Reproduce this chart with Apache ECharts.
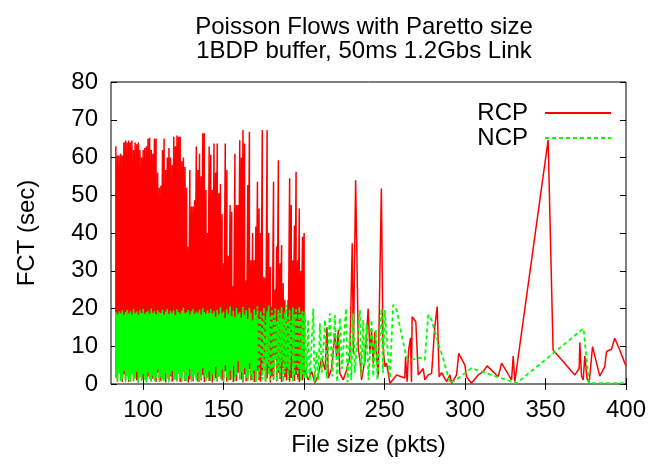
<!DOCTYPE html>
<html>
<head>
<meta charset="utf-8">
<script src="https://cdn.jsdelivr.net/npm/echarts@6/dist/echarts.min.js"></script>
<style>html,body{margin:0;padding:0;background:#fff}#c{width:652px;height:465px}</style>
</head>
<body>
<div id="c"></div>
<script>
// ---- data ----
var titleLines = ['Poisson Flows with Paretto size', '1BDP buffer, 50ms 1.2Gbs Link'];
var xTicks = [100, 150, 200, 250, 300, 350, 400];
var seriesNames = ['RCP', 'NCP'];

// dense region: file sizes with many flows (one high and one low FCT per size)
var denseX = [83,84,85,86,87,88,89,90,91,92,93,94,95,96,97,98,99,100,101,102,
  103,104,105,106,107,108,109,110,111,112,113,114,115,116,117,118,119,120,121,122,
  123,124,125,126,127,128,129,130,131,132,133,134,135,136,137,138,139,140,141,142,
  143,144,145,146,147,148,149,150,151,152,153,154,155,156,157,158,159,160,161,162,
  163,164,165,166,167,168,169,170,171,172,173,174,175,176,177,178,179,180,181,182,
  183,184,185,186,187,188,189,190,191,192,193,194,195,196,197,198,199,200];
var rcpHi = [63,60.5,60.5,61,60.5,64,64.5,64,64.5,64, 64.5,62,64,63.5,64,62,60,62,62.5,63,
  65,65.2,62,61,65,65,56,52,52.5,62, 65,56.7,60,62.5,60,58,65.5,63,65.8,65.5,
  65.5,59,60,57.5,52,36.4,56.7,47,47,48.7, 62.9,56.7,61,55,66.4,66.4,51.4,40,62.9,60.7,
  51.4,63.7,56,63.7,50.5,53,45,32,63.7,56.7, 34,47.4,45.6,26,61,47.4,47.4,64.6,60,67.3,
  63.7,27.5,52.7,66.8,32.8,40,32.8,41.7,53.6,46.5, 40,67.3,28.4,28,67.3,40,31,20.5,53.6,25,
  36.4,59.3,32,36.8,26.7,22.3,17,22.3,54.5,47.4, 32.8,42,56.2,32.8,46.5,30,39,40];
var rcpLo = [2,0.8,3,1.2,0.5,2.5,1,4,0.6,1.8, 3.5,0.7,2.2,1,0.4,2.8,1.5,0.9,3.2,0.6,
  1.9,4.2,0.8,1.4,2.6,0.5,3,1.1,0.7,2.4, 1.6,0.4,3.8,1,2,0.6,1.3,4.5,0.9,2.7,
  0.5,1.7,3.3,0.8,2.1,0.4,1.2,5,0.7,2.9, 1.4,0.6,3.6,1,2.3,0.5,4.4,1.8,0.8,2.6,
  0.4,3.1,1.5,0.7,2,5.5,0.9,1.6,3.4,0.6, 2.2,1,4.8,0.5,1.9,0.8,3,6,1.2,0.4,
  2.5,0.7,1.4,4,0.9,2.8,0.5,1.7,3.5,1, 0.6,2.3,5.2,0.8,1.5,3.8,0.4,2,1.1,6.5,
  0.7,2.9,1.3,0.5,4.2,1.8,0.9,3.2,0.6,1.6, 5,0.8,2.4,1.2,0.5,3.6,1,2];
var ncpHi = [19,18.5,19.2,18.8,19.5,18.3,19,19.6,18.7,19.3, 18.5,19.8,18.9,19.2,18.4,19.5,18.8,19.9,18.6,19.1,
  19.4,18.7,20,18.9,19.3,18.5,19.6,19,18.8,19.7, 18.4,19.2,19.9,18.6,19.4,18.9,19.5,18.3,19.8,19.1,
  18.7,19.4,20.2,18.8,19,19.6,18.5,19.3,19.9,18.6, 19.2,18.9,19.7,18.4,20,19.1,18.6,19.5,18.8,19.9,
  18.7,19.3,17.8,19.6,18.5,20.3,18.9,19.2,17.5,19.8, 18.6,20.5,18,19.4,17.8,20.1,18.7,19,17.6,20.4,
  18.4,19.6,17.2,20.2,18.9,16.8,19.8,18.3,20.6,17.5, 19.4,18,20.3,16.9,19.2,20.8,17.8,19.5,18.2,20,
  16.5,19.7,18.8,20.4,17.3,19,21,17.9,19.6,16.8, 20.2,18.4,19.8,17,20.5,18.9,19.3,18];
var ncpLo = [1.5,0.5,2.8,0.8,1.2,3.5,0.4,2,1,0.6, 2.5,0.9,1.4,3.2,0.5,1.8,0.7,2.6,1.1,0.4,
  3,1.3,0.6,2.2,0.8,1.6,3.8,0.5,1.9,1, 0.7,2.9,1.4,0.4,2.3,3.4,0.9,1.2,0.6,2.7,
  1.5,0.5,3.6,1.1,0.8,2.1,4,0.6,1.7,2.4, 0.9,3.1,0.5,1.3,4.2,2,0.7,1.6,3.3,0.8,
  2.6,1,4.5,0.6,2.2,1.4,3.8,0.5,5,1.8, 0.9,3.5,1.2,4.8,0.7,2.4,6,1.1,3,0.6,
  4.2,1.6,0.8,5.5,2.2,1,3.6,0.5,4.8,1.9, 7,1.2,3.2,0.6,5.2,2.5,0.9,4,1.4,6.2,
  0.8,3.4,1.7,5.8,0.5,2.8,4.5,1,3.6,7.5, 0.7,2.2,5,1.3,3.8,0.9,2.6,1.5];

// sparse region (larger files)
var rcpTailX = [200.5,202.5,204.7,206.7,208.8,210.9,213,214.2,215,217.1,
  219.1,220.2,221.2,222.2,224.3,226.4,228.4,229.9,230.6,232,
  233,233.7,234.7,235.7,237.8,239.8,240.9,241.9,242.9,244,
  246,248,249,250.2,251.2,253.3,257.5,262.6,263,264,
  264.9,266.1,266.7,267.1,269.4,270.9,274,275,277.1,279.2,
  281.2,282.7,283.9,285.4,288.5,290.6,291.6,294.7,296.1,299.9,
  300.9,304,308.1,311.2,313.7,320.6,322.7,328.9,329.9,330.9,
  332,351.6,354.7,368.2,370.9,371.3,372.4,373.4,374.4,375.8,
  377.1,379.2,383.7,386.8,387.9,391,393,396.1,399.3,400];
var rcpTailY = [3.7,1.1,3.3,0.3,2.4,6.8,3.7,15,1.5,4.1,
  13.4,7.2,14.3,2.8,1.1,3.7,7.2,37.3,8,54,
  28.4,9,6.4,1.1,6.4,20,8,14.3,5.5,13.9,
  1.9,51.8,10,4.6,5.5,0.2,2.4,1.6,7.2,0.6,
  9,12.2,0.5,17.8,16.5,2.4,4.1,1.1,2.4,2.8,
  15.2,20.5,1.9,3,0.6,2.4,0.2,2.4,8.1,5,
  1.9,0.2,2.4,3.2,4.8,1.9,5.5,1.1,7.4,0.6,
  0.2,64.6,9,2.4,4.1,11,2,1.1,7.4,1.5,
  0.2,9.9,2.1,4.6,8.6,9.2,12.1,9,5.5,4.8];
var ncpTailX = [200.5,201.5,202.5,203.5,205.7,206.5,207.8,208.8,209.8,211,
  213,214,216,217.5,219.1,220.5,222.2,223.5,226,227,
  228.4,229.3,230.5,231.5,234.7,235.5,236.7,237.5,238.8,240,
  241.9,243,244.6,245.5,248.1,249,250.2,251,253.3,255.3,
  257.5,259.5,263.7,266.7,271.9,275,277.1,279.2,283.3,286.4,
  290.6,295.7,304,332,373.6,377,400];
var ncpTailY = [19,1.5,17,0.8,20,0.5,8.6,1,16,3,
  17,1.5,18.7,2,18.3,0.5,17.5,4,20,0.5,
  13.4,1,18.7,3,19.6,2,17,5,16,1,
  17,2,14.3,1,20,3,19.6,14,1.5,21,
  19.6,15.2,6.8,6.4,7,6.4,18.3,17,10.8,6.8,
  0.2,1.5,4.2,0.2,14.7,0.2,0.2];

// ---- build series data ----
function build(xs, hi, lo, tx, ty) {
  var out = [];
  for (var i = 0; i < xs.length; i++) {
    out.push([xs[i], hi[i]]);
    out.push([xs[i], lo[i]]);
  }
  for (var j = 0; j < tx.length; j++) out.push([tx[j], ty[j]]);
  return out;
}
var rcpData = build(denseX, rcpHi, rcpLo, rcpTailX, rcpTailY);
var ncpData = build(denseX, ncpHi, ncpLo, ncpTailX, ncpTailY);
// the heavily overplotted part of NCP looks solid in the original
var SOLID_UNTIL = 170;
var ncpSolid = ncpData.filter(function (p) { return p[0] <= SOLID_UNTIL; });
var ncpDashed = ncpData.filter(function (p) { return p[0] >= SOLID_UNTIL; });

var FONT = 'Liberation Sans, Arial, sans-serif';
var chart = echarts.init(document.getElementById('c'), null, {renderer: 'canvas'});
chart.setOption({
  animation: false,
  backgroundColor: '#fff',
  title: {
    text: titleLines.join('\n'),
    left: 359, top: 10, textAlign: 'center',
    textStyle: {fontFamily: FONT, fontSize: 24, fontWeight: 'normal', color: '#000', lineHeight: 24}
  },
  legend: {
    data: seriesNames,
    orient: 'vertical', right: 40, top: 101, align: 'right',
    itemWidth: 66, itemHeight: 14, itemGap: 1, padding: 0,
    itemStyle: {opacity: 0},
    textStyle: {fontFamily: FONT, fontSize: 24, color: '#000', padding: [0, 12, 0, 0]}
  },
  grid: {left: 111, right: 26, top: 82, bottom: 81, show: true, borderColor: '#000', borderWidth: 1, backgroundColor: 'transparent'},
  xAxis: [{
    type: 'value', min: 80, max: 400,
    name: 'File size (pkts)', nameLocation: 'middle', nameGap: 49,
    nameTextStyle: {fontFamily: FONT, fontSize: 24, color: '#000'},
    axisLine: {show: false},
    axisTick: {show: true, inside: true, length: 6, lineStyle: {color: '#000'}, customValues: xTicks},
    axisLabel: {fontFamily: FONT, fontSize: 24, color: '#000', margin: 14, customValues: xTicks},
    splitLine: {show: false}
  }, {
    type: 'value', min: 80, max: 400, position: 'top',
    axisLine: {show: false},
    axisTick: {show: true, inside: true, length: 6, lineStyle: {color: '#000'}, customValues: xTicks},
    axisLabel: {show: false, customValues: xTicks},
    splitLine: {show: false}
  }],
  yAxis: [{
    type: 'value', min: 0, max: 80, interval: 10,
    name: 'FCT (sec)', nameLocation: 'middle', nameGap: 72,
    nameTextStyle: {fontFamily: FONT, fontSize: 24, color: '#000'},
    axisLine: {show: false},
    axisTick: {show: true, inside: true, length: 6, lineStyle: {color: '#000'}},
    axisLabel: {fontFamily: FONT, fontSize: 24, color: '#000', margin: 13},
    splitLine: {show: false}
  }, {
    type: 'value', min: 0, max: 80, interval: 10, position: 'right',
    axisLine: {show: false},
    axisTick: {show: true, inside: true, length: 6, lineStyle: {color: '#000'}},
    axisLabel: {show: false},
    splitLine: {show: false}
  }],
  series: [{
    name: 'RCP', type: 'line', data: rcpData, xAxisIndex: 0, yAxisIndex: 0,
    symbol: 'none', showSymbol: false, clip: true,
    lineStyle: {color: '#ff0000', width: 1.5},
    itemStyle: {color: '#ff0000'}
  }, {
    name: 'NCP', type: 'line', data: ncpDashed, xAxisIndex: 0, yAxisIndex: 0,
    symbol: 'none', showSymbol: false, clip: true,
    lineStyle: {color: '#00ff00', width: 1.8, type: [4, 3]},
    itemStyle: {color: '#00ff00'}
  }, {
    name: 'NCP', type: 'line', data: ncpSolid, xAxisIndex: 0, yAxisIndex: 0,
    symbol: 'none', showSymbol: false, clip: true,
    lineStyle: {color: '#00ff00', width: 1.5},
    itemStyle: {color: '#00ff00'}
  }]
});
</script>
</body>
</html>
